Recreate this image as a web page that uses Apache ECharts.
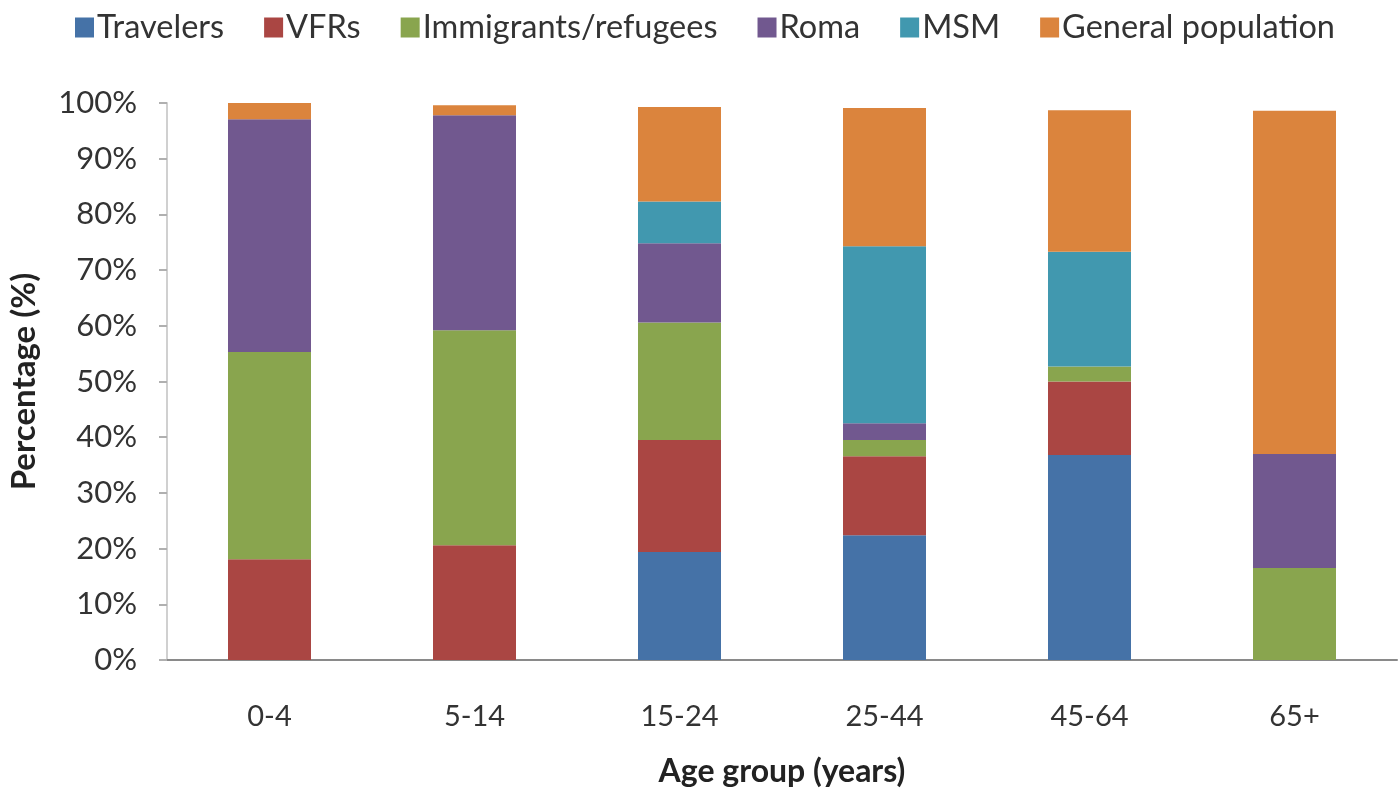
<!DOCTYPE html>
<html>
<head>
<meta charset="utf-8">
<script src="https://cdn.jsdelivr.net/npm/echarts@6/dist/echarts.min.js"></script>
<style>
html,body{margin:0;padding:0;background:#fff;}
#chart{width:1400px;height:805px;}
</style>
</head>
<body>
<div id="chart"></div>
<script>
const categories = ['0-4', '5-14', '15-24', '25-44', '45-64', '65+'];
const travelers   = [0,    0,    19.4, 22.4, 36.8, 0];
const vfrs        = [18.1, 20.6, 20.1, 14.2, 13.2, 0];
const immigrants  = [37.2, 38.6, 21.1, 2.9,  2.7,  16.5];
const roma        = [41.8, 38.6, 14.2, 3.0,  0,    20.5];
const msm         = [0,    0,    7.5,  31.8, 20.6, 0];
const generalPop  = [2.9,  1.8,  17.0, 24.8, 25.4, 61.6];
const yTicks = [0, 10, 20, 30, 40, 50, 60, 70, 80, 90, 100];

const seriesDefs = [
  {name: 'Travelers', data: travelers, color: '#4572A7'},
  {name: 'VFRs', data: vfrs, color: '#AA4643'},
  {name: 'Immigrants/refugees', data: immigrants, color: '#89A54E'},
  {name: 'Roma', data: roma, color: '#71588F'},
  {name: 'MSM', data: msm, color: '#4198AF'},
  {name: 'General population', data: generalPop, color: '#DB843D'}
];

const FONT = 'Lato';
const chart = echarts.init(document.getElementById('chart'));
chart.setOption({
  animation: false,
  backgroundColor: '#fff',
  textStyle: {fontFamily: FONT},
  legend: {
    top: 6,
    left: 70,
    itemWidth: 19,
    itemHeight: 20,
    itemGap: 40,
    icon: 'rect',
    textStyle: {fontFamily: FONT, fontSize: 32.5, color: '#333', padding: [0, 0, 0, -2]},
    data: seriesDefs.map(s => s.name)
  },
  grid: {left: 159, right: 3, top: 103, bottom: 145, containLabel: false},
  xAxis: {
    type: 'category',
    data: categories,
    axisLine: {lineStyle: {color: '#8a8a8a', width: 2}},
    axisTick: {show: false},
    axisLabel: {fontFamily: FONT, fontSize: 29, color: '#333', margin: 42},
    name: 'Age group (years)',
    nameLocation: 'middle',
    nameGap: 96,
    nameTextStyle: {fontFamily: FONT, fontSize: 32, fontWeight: 'bold', color: '#222'}
  },
  yAxis: {
    type: 'value',
    min: 0,
    max: 100,
    interval: 10,
    axisLine: {show: true, lineStyle: {color: '#d0d0d0', width: 2}},
    axisTick: {show: true, length: 8, lineStyle: {color: '#b0b0b0', width: 2}},
    splitLine: {show: false},
    axisLabel: {
      fontFamily: FONT, fontSize: 31, color: '#333', margin: 30,
      formatter: v => yTicks.indexOf(v) >= 0 ? v + '%' : ''
    },
    name: 'Percentage (%)',
    nameLocation: 'middle',
    nameGap: 126,
    nameTextStyle: {fontFamily: FONT, fontSize: 33, fontWeight: 'bold', color: '#222'}
  },
  series: seriesDefs.map(s => ({
    name: s.name,
    type: 'bar',
    stack: 'total',
    barWidth: 83,
    data: s.data,
    itemStyle: {color: s.color}
  }))
});
</script>
</body>
</html>
